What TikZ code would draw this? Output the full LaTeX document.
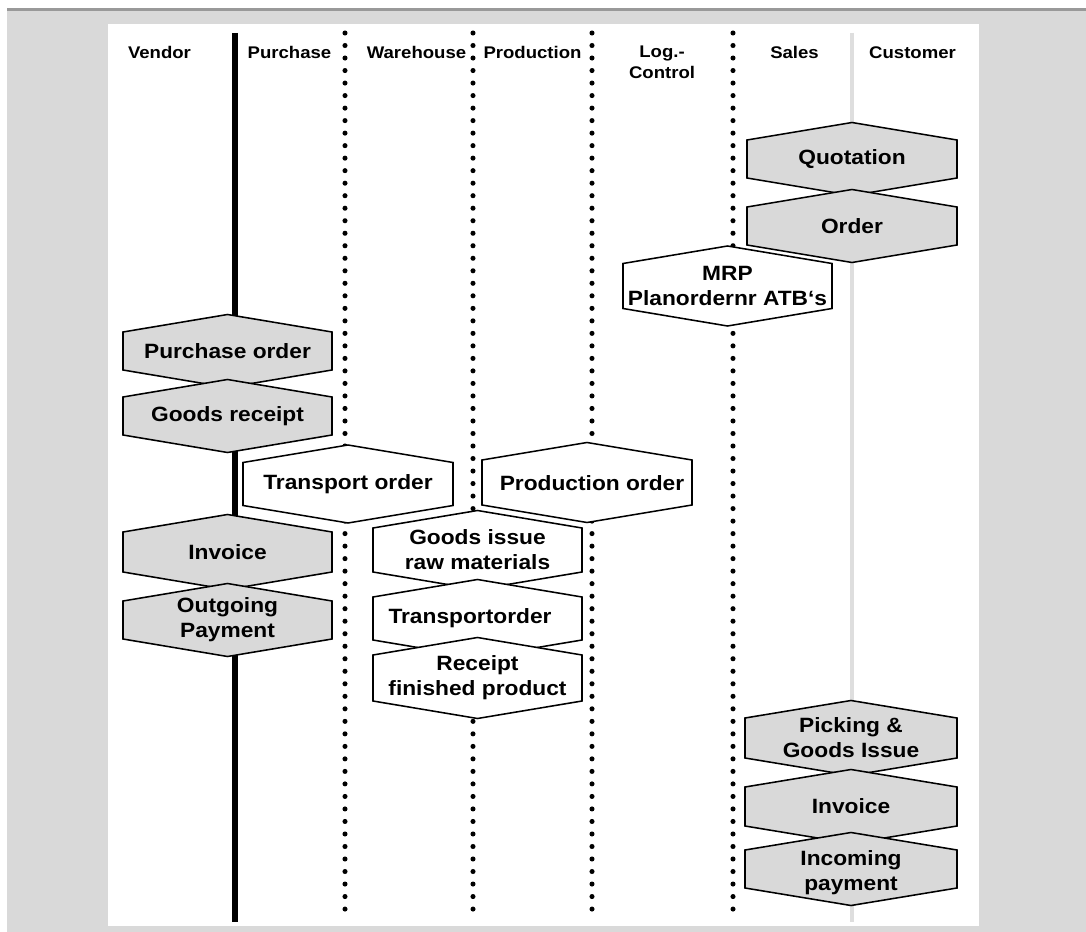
\documentclass[tikz,border=0pt]{standalone}
\usepackage{fontspec}
\setmainfont{Liberation Sans}
\newfontfamily\lanefont[FakeStretch=1.1]{Liberation Sans}
\newcommand\hdrfont{\lanefont\bfseries\fontsize{12}{15}\selectfont}
\newcommand\hexfont{\lanefont\bfseries\fontsize{14.7}{17.8}\selectfont}
\usetikzlibrary{backgrounds}
\definecolor{sapgray}{HTML}{D9D9D9}
\definecolor{sapframe}{HTML}{999999}
\definecolor{sapline}{HTML}{DEDEDE}
% hexagon round a node or coordinate: name, half width, half side height
\newcommand\hexpath[3]{([shift={(-#2,-#3)}]#1.center) -- ([shift={(0,-#3-17.5)}]#1.center)
  -- ([shift={(#2,-#3)}]#1.center) -- ([shift={(#2,#3)}]#1.center)
  -- ([shift={(0,#3+17.5)}]#1.center) -- ([shift={(-#2,#3)}]#1.center) -- cycle}

\begin{document}
\begin{tikzpicture}[x=0.025cm,y=-0.025cm,
  hdr/.style={font=\hdrfont,align=center,inner sep=0pt,anchor=north},
  hexlbl/.style={font=\hexfont,align=center,inner sep=0pt},
  hexgray/.style={fill=sapgray,draw=black,line width=1.1pt},
  hexwhite/.style={fill=white,draw=black,line width=1.1pt},
  dotlane/.style={line width=3.6pt,line cap=round,dash pattern=on 0pt off 8.9pt}
]
  \useasboundingbox (0,0) rectangle (1086,932);
  % Lane titles
  \node[hdr] (tvendor) at (159.5,46) {Vendor};
  \node[hdr] (tpurch) at (289.5,46) {Purchase};
  \node[hdr] (tware) at (416.5,46) {Warehouse};
  \node[hdr] (tprod) at (532.5,46) {Production};
  \node[hdr] (tlog) at (662,46) {Log.-\\Control};
  \node[hdr] (tsales) at (794.5,46) {Sales};
  \node[hdr] (tcust) at (912.5,46) {Customer};
  % Sales steps
  \node[hexlbl] (quot) at (852,159) {Quotation};
  \node[hexlbl] (order) at (852,226) {Order};
  \node[hexlbl] (mrp) at (727.5,286) {MRP\\Planordernr ATB‘s};
  % Vendor steps
  \node[hexlbl] (po) at (227.5,351) {Purchase order};
  \node[hexlbl] (gr) at (227.5,416) {Goods receipt};
  \node[hexlbl] (vinv) at (227.5,552) {Invoice};
  \node[hexlbl] (opay) at (227.5,620) {Outgoing\\Payment};
  % Warehouse / production steps
  \node[hexlbl] (tord) at (348,484) {Transport order};
  \node[hexlbl] (pord) at (592,483) {Production order};
  \node[hexlbl] (gi) at (477.5,550) {Goods issue\\raw materials};
  \node[hexlbl] (tord2) at (470,618.5) {Transportorder};
  \node[hexlbl] (rfp) at (477.5,678) {Receipt\\finished product};
  % Customer side
  \node[hexlbl] (pick) at (851,738) {Picking \&\\Goods Issue};
  \node[hexlbl] (cinv) at (851,806.5) {Invoice};
  \node[hexlbl] (ipay) at (851,873) {Incoming\\payment};
  % shape centres that sit off their text
  \coordinate (pordc) at (587,482.5);
  \coordinate (tord2c) at (477.5,618.5);
  \coordinate (ipayc) at (851,869);

  \begin{pgfonlayer}{background}
    \fill[white] (0,0) rectangle (1086,932);
    \fill[sapgray] (7,11) rectangle (1086,932);
    \fill[sapframe] (7,8) rectangle (1086,11);
    \fill[white] (108,24) rectangle (979,926);
    % lanes
    \draw[line width=3.6pt] (235,33) -- (235,922);
    \foreach \x in {345,473,592,733}
      \draw[dotlane] (\x,33) -- (\x,918);
    \draw[sapline,line width=2.9pt] (852,33) -- (852,922);
    % hexagons
    \filldraw[hexgray] \hexpath{quot}{105}{19};
    \filldraw[hexgray] \hexpath{order}{105}{19};
    \filldraw[hexwhite] \hexpath{mrp}{104.5}{22.5};
    \filldraw[hexgray] \hexpath{po}{104.5}{19};
    \filldraw[hexgray] \hexpath{gr}{104.5}{19};
    \filldraw[hexgray] \hexpath{vinv}{104.5}{20};
    \filldraw[hexgray] \hexpath{opay}{104.5}{19};
    \filldraw[hexwhite] \hexpath{tord}{105}{21.5};
    \filldraw[hexwhite] \hexpath{pordc}{105}{22.5};
    \filldraw[hexwhite] \hexpath{gi}{104.5}{22};
    \filldraw[hexwhite] \hexpath{tord2c}{104.5}{21.5};
    \filldraw[hexwhite] \hexpath{rfp}{104.5}{23};
    \filldraw[hexgray] \hexpath{pick}{106}{20};
    \filldraw[hexgray] \hexpath{cinv}{106}{19.5};
    \filldraw[hexgray] \hexpath{ipayc}{106}{19};
  \end{pgfonlayer}
\end{tikzpicture}
\end{document}
